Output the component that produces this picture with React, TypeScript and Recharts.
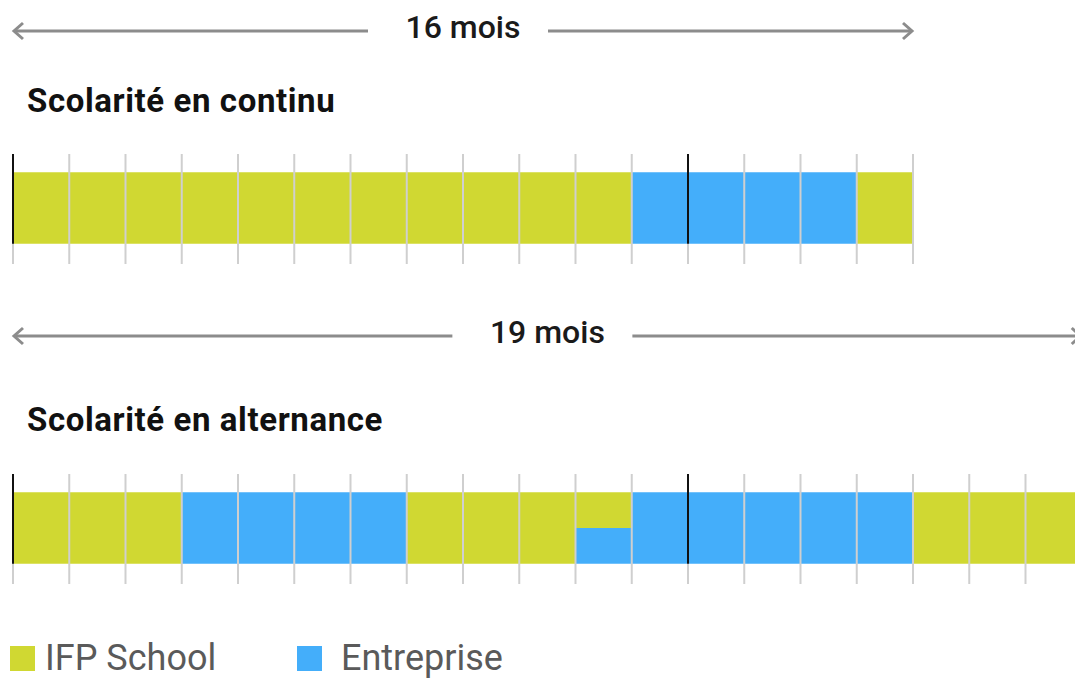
import { BarChart, Bar, XAxis, YAxis, ReferenceLine } from 'recharts';

// mois de chaque parcours
const moisContinu = ['1', '2', '3', '4', '5', '6', '7', '8', '9', '10', '11', '12', '13', '14', '15', '16'];
const moisAlternance = ['1', '2', '3', '4', '5', '6', '7', '8', '9', '10', '11', '12', '13', '14', '15', '16', '17', '18', '19'];

// part du mois passée à l'école / en entreprise
const ifpContinu = [1, 1, 1, 1, 1, 1, 1, 1, 1, 1, 1, 0, 0, 0, 0, 1];
const entrepriseContinu = [0, 0, 0, 0, 0, 0, 0, 0, 0, 0, 0, 1, 1, 1, 1, 0];
const ifpAlternance = [1, 1, 1, 0, 0, 0, 0, 1, 1, 1, 0.5, 0, 0, 0, 0, 0, 1, 1, 1];
const entrepriseAlternance = [0, 0, 0, 1, 1, 1, 1, 0, 0, 0, 0.5, 1, 1, 1, 1, 1, 0, 0, 0];

// repères noirs : début du parcours et 13e mois (rentrée)
const reperes = ['1', '13'];

const titres = ['Scolarité en continu', 'Scolarité en alternance'];
const durees = ['16 mois', '19 mois'];
const legende = ['IFP School', 'Entreprise'];

const VERT = '#d0d832';
const BLEU = '#44aefa';
const GRIS = '#cfcfcf';
const FONT = 'Roboto, "Noto Sans", sans-serif';

const MOIS_W = 56.25;
const GAUCHE = 13;
const PAD = 4;
const HAUT = 110;
const Y_MIN = -0.282;
const Y_MAX = 1.254;
// hauteur sous la barre où le repère noir s'arrête
const SOUS_BARRE = (HAUT * -Y_MIN) / (Y_MAX - Y_MIN);

type Props = {
  mois: string[];
  ifp: number[];
  entreprise: number[];
  top: number;
};

const RepereNoir = (props: any) => {
  const haut = Math.min(props.y1, props.y2);
  const bas = Math.max(props.y1, props.y2) - SOUS_BARRE;
  return <line x1={props.x1} y1={haut} x2={props.x2} y2={bas} stroke="#111" strokeWidth={2} />;
};

function Frise({ mois, ifp, entreprise, top }: Props) {
  const data = mois.map((m, i) => ({ mois: m, ifp: ifp[i], entreprise: entreprise[i] }));
  const n = mois.length;
  return (
    <div style={{ position: 'absolute', left: GAUCHE - PAD, top }}>
      <BarChart
        width={n * MOIS_W + PAD * 2}
        height={HAUT}
        data={data}
        margin={{ top: 0, right: PAD, bottom: 0, left: PAD }}
        barCategoryGap={0}
        barGap={0}
      >
        <XAxis dataKey="mois" hide />
        <YAxis type="number" domain={[Y_MIN, Y_MAX]} allowDataOverflow hide />
        <Bar dataKey="entreprise" stackId="a" fill={BLEU} isAnimationActive={false} />
        <Bar dataKey="ifp" stackId="a" fill={VERT} isAnimationActive={false} />
        {mois.map((m) => (
          <ReferenceLine key={m} x={m} position="start" stroke={GRIS} strokeWidth={2} ifOverflow="visible" />
        ))}
        <ReferenceLine x={mois[n - 1]} position="end" stroke={GRIS} strokeWidth={2} ifOverflow="visible" />
        {reperes.map((r) => (
          <ReferenceLine key={'r' + r} x={r} position="start" ifOverflow="visible" shape={RepereNoir} />
        ))}
      </BarChart>
    </div>
  );
}

function Fleche({ y, mois, label }: { y: number; mois: number; label: string }) {
  const x0 = GAUCHE;
  const x1 = GAUCHE + mois * MOIS_W;
  const mid = (x0 + x1) / 2;
  return (
    <g>
      <line x1={x0 + 1} y1={y} x2={x1 - 1} y2={y} stroke="#8c8c8c" strokeWidth={3} />
      <polyline points={`${x0 + 10},${y - 8} ${x0 + 1},${y} ${x0 + 10},${y + 8}`} fill="none" stroke="#8c8c8c" strokeWidth={3} />
      <polyline points={`${x1 - 10},${y - 8} ${x1 - 1},${y} ${x1 - 10},${y + 8}`} fill="none" stroke="#8c8c8c" strokeWidth={3} />
      <rect x={mid - 95} y={y - 20} width={180} height={40} fill="#fff" />
      <text x={mid} y={y + 7} textAnchor="middle" fontFamily={FONT} fontWeight={500} fontSize={32} fill="#1a1a1a">
        {label}
      </text>
    </g>
  );
}

export default function App() {
  return (
    <div style={{ position: 'absolute', left: 0, top: 0, width: 1075, height: 679, overflow: 'hidden', background: '#fff' }}>
      <svg width={1075} height={679} style={{ position: 'absolute', left: 0, top: 0 }}>
        <Fleche y={31} mois={moisContinu.length} label={durees[0]} />
        <Fleche y={336} mois={moisAlternance.length} label={durees[1]} />
        <text x={27} y={112} fontFamily={FONT} fontWeight={700} fontSize={33} letterSpacing={0.6} fill="#111">
          {titres[0]}
        </text>
        <text x={27} y={431} fontFamily={FONT} fontWeight={700} fontSize={33} letterSpacing={0.6} fill="#111">
          {titres[1]}
        </text>
        <rect x={10} y={646} width={25} height={25} fill={VERT} />
        <text x={45} y={670} fontFamily={FONT} fontSize={36} fill="#5a5a5a">
          {legende[0]}
        </text>
        <rect x={297} y={646} width={25} height={25} fill={BLEU} />
        <text x={341} y={670} fontFamily={FONT} fontSize={36} fill="#5a5a5a">
          {legende[1]}
        </text>
      </svg>
      <Frise mois={moisContinu} ifp={ifpContinu} entreprise={entrepriseContinu} top={154} />
      <Frise mois={moisAlternance} ifp={ifpAlternance} entreprise={entrepriseAlternance} top={474} />
    </div>
  );
}
